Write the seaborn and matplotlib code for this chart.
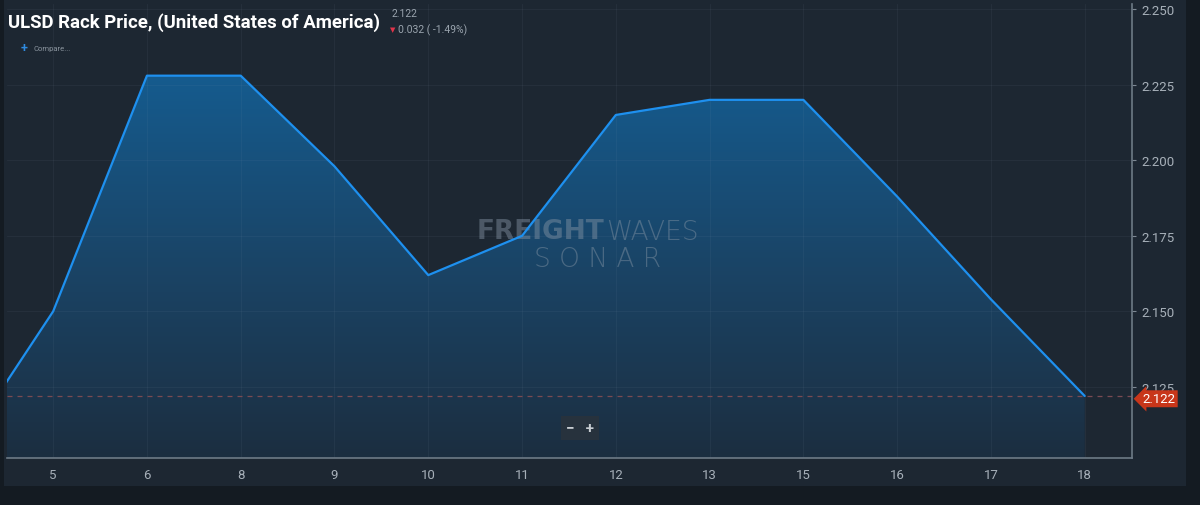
import numpy as np
import pandas as pd
import seaborn as sns
import matplotlib.pyplot as plt
from matplotlib.patches import Rectangle, Polygon
from matplotlib.colors import LinearSegmentedColormap

days = ["4", "5", "6", "8", "9", "10", "11", "12", "13", "15", "16", "17", "18"]
prices = [2.103, 2.150, 2.228, 2.228, 2.198, 2.162, 2.175, 2.215, 2.220, 2.220, 2.188, 2.154, 2.122]
y_ticks = [2.125, 2.150, 2.175, 2.200, 2.225, 2.250]
last_price = 2.122
change_text = "0.032 ( -1.49%)"

df = pd.DataFrame({"pos": np.arange(len(days)), "day": days, "price": prices})

sns.set_style("dark")
plt.rcParams['font.family'] = ['Roboto', 'DejaVu Sans']

fig = plt.figure(figsize=(12, 5.06), dpi=100)
fig.patch.set_facecolor("#141b22")
# panel background
fig.patches.append(Rectangle((0.003, 0.038), 0.985, 0.962, transform=fig.transFigure,
                             facecolor="#1d2732", edgecolor="none", zorder=-5))

ax = fig.add_axes([0.006, 0.093, 0.937, 0.897])
ax.set_facecolor("#1d2732")
ax.set_zorder(1)

x_lo, x_hi = 0.51, 12.5
y_lo, y_hi = 2.1015, 2.2517

# gradient fill under the line
cmap = LinearSegmentedColormap.from_list("g", ["#1c2e40", "#1a4466", "#155b8e"])
grad = np.linspace(0, 1, 256).reshape(-1, 1)
im = ax.imshow(grad, cmap=cmap, aspect="auto", origin="lower",
               extent=[x_lo, x_hi, y_lo, 2.228], zorder=1)
clip = Polygon(np.column_stack([list(df["pos"]) + [df["pos"].iloc[-1], df["pos"].iloc[0]],
                                list(df["price"]) + [y_lo, y_lo]]),
               transform=ax.transData, facecolor="none", edgecolor="none")
ax.add_patch(clip)
im.set_clip_path(clip)

sns.lineplot(data=df, x="pos", y="price", ax=ax, color="#1e90ef", linewidth=1.6, zorder=3)
ax.set_xlim(x_lo, x_hi)
ax.set_ylim(y_lo, y_hi)

# grid
for p in df["pos"][1:]:
    ax.axvline(p, color="#8fa3b8", linewidth=0.8, zorder=1.5, alpha=0.07)
for yt in y_ticks:
    ax.axhline(yt, color="#8fa3b8", linewidth=0.8, zorder=1.5, alpha=0.07)

ax.axhline(last_price, color="#7a4a52", linewidth=0.9, linestyle=(0, (4, 4)), zorder=2)

ax.set_xticks(df["pos"][1:])
ax.set_xticklabels(days[1:])
ax.yaxis.tick_right()
ax.set_yticks(y_ticks)
ax.set_yticklabels([f"{v:.3f}" for v in y_ticks])
ax.tick_params(axis="both", colors="#7d8893", labelcolor="#a7b0b9", labelsize=9.5,
               length=3, width=0.8, direction="out", pad=4)
ax.set_xlabel("")
ax.set_ylabel("")
for side in ["top", "left"]:
    ax.spines[side].set_visible(False)
for side in ["bottom", "right"]:
    ax.spines[side].set_color("#6d7a86")
    ax.spines[side].set_linewidth(1.2)

# price marker on right axis
ax.annotate(f"{last_price:.3f}", xy=(1.0, last_price), xycoords=("axes fraction", "data"),
            xytext=(8, -2), textcoords="offset points", ha="left", va="center",
            color="white", fontsize=9.5,
            bbox=dict(boxstyle="larrow,pad=0.15", facecolor="#c8361a", edgecolor="none"),
            zorder=5, annotation_clip=False)

# title and header
fig.text(0.007, 0.955, "ULSD Rack Price, (United States of America)", color="white",
         fontsize=13.4, fontweight="bold", va="center", ha="left")
fig.text(0.326, 0.972, "2.122", color="#9aa4ae", fontsize=7.5, va="center")
fig.text(0.325, 0.94, "\u25bc", color="#e0344a", fontsize=5, va="center")
fig.text(0.332, 0.94, change_text, color="#9aa4ae", fontsize=7.5, va="center")
fig.text(0.017, 0.904, "+", color="#2f8be0", fontsize=9, fontweight="bold", va="center")
fig.text(0.028, 0.904, "Compare...", color="#8a949e", fontsize=5.5, va="center")

# watermark
wm = dict(transform=ax.transAxes, color="#8796a6", alpha=0.45, fontsize=19,
          va="center", zorder=2, family=["DejaVu Sans"])
ax.text(0.531, 0.50, "FREIGHT", fontweight="bold", ha="right", **wm)
ax.text(0.533, 0.50, "WAVES", fontweight="light", ha="left", **wm)
ax.text(0.525, 0.44, "S O N A R", fontweight="light", ha="center", **wm)

# zoom buttons
ax.text(0.5095, 0.066, "\u2212   +", transform=ax.transAxes, color="#c8cdd2", fontsize=11,
        fontweight="bold", ha="center", va="center", zorder=5,
        bbox=dict(boxstyle="square,pad=0.3", facecolor="#27323d", edgecolor="none"))

fig.savefig("out.png", dpi=100, facecolor=fig.get_facecolor())
